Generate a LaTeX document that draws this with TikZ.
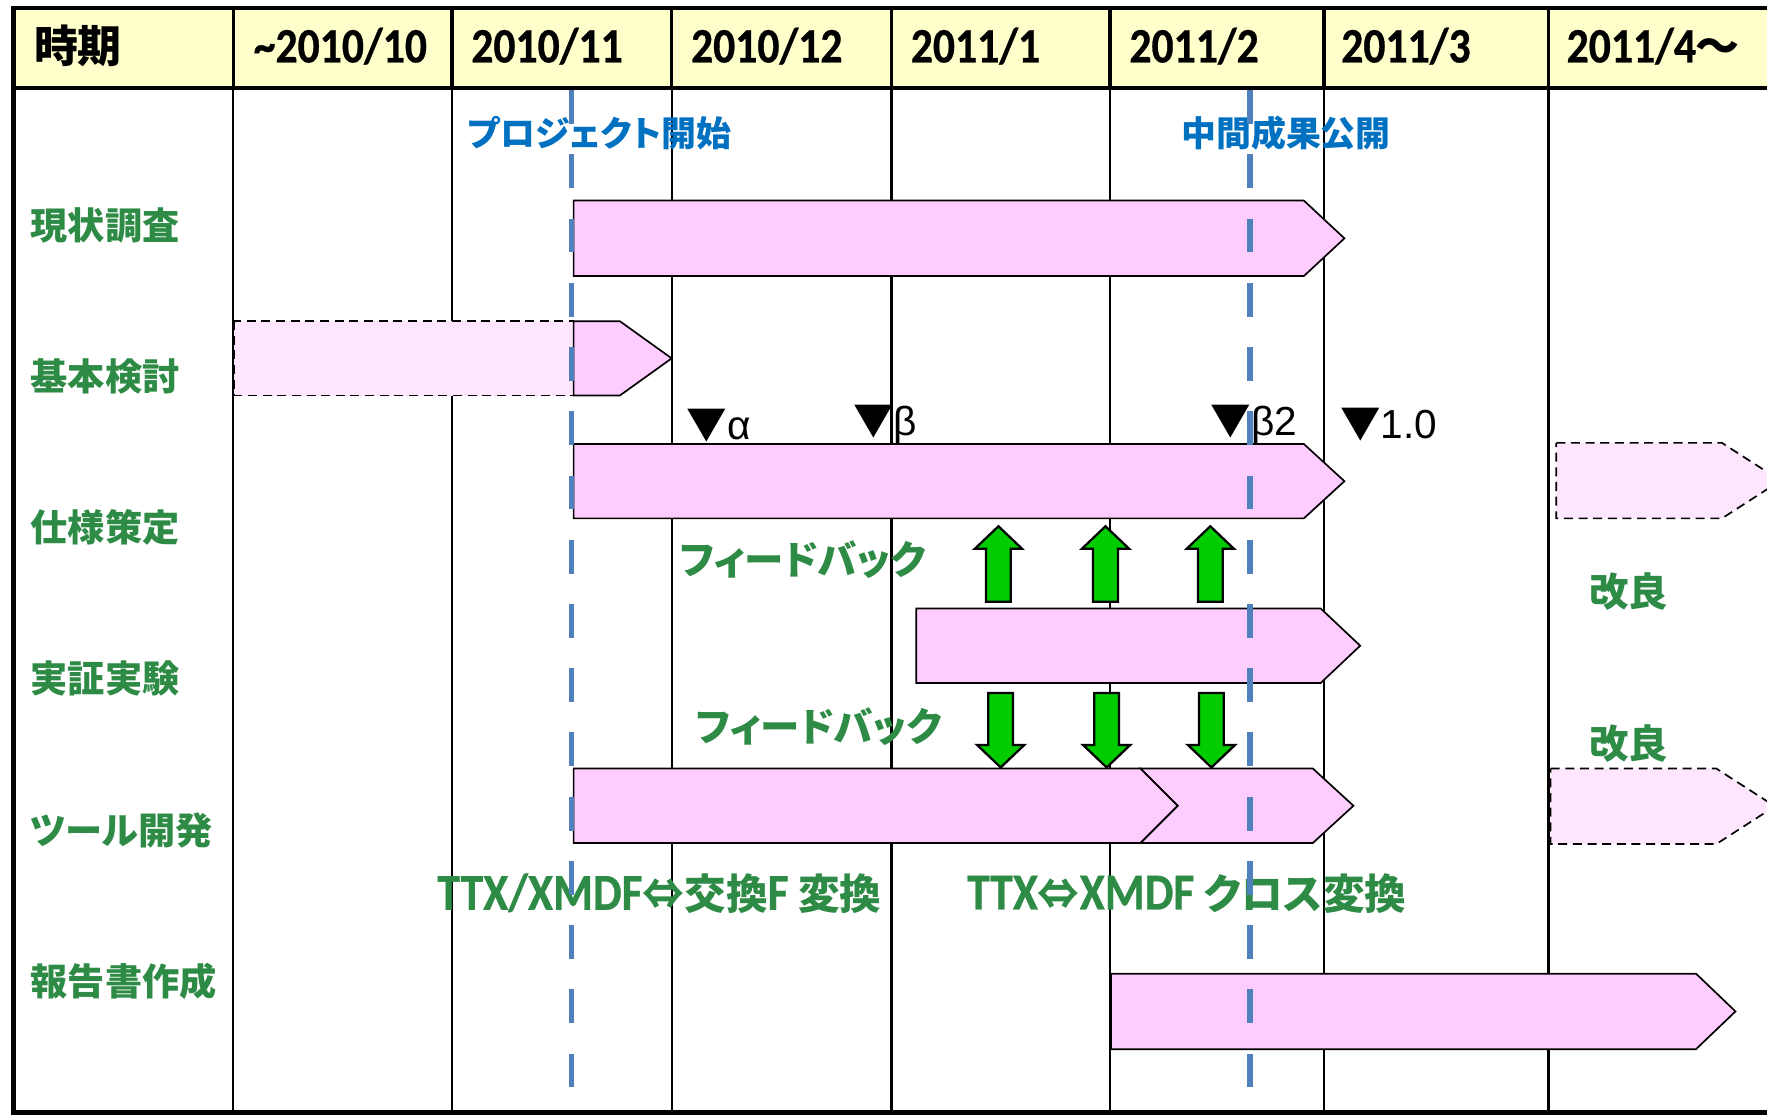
\documentclass[tikz,border=0pt]{standalone}
\usepackage{fontspec}
\setmainfont{Liberation Sans}
\newfontfamily\cjk{Noto Sans CJK JP}[RawFeature=+palt]
\newfontfamily\hdfont{Carlito Bold}[FakeStretch=0.88,FakeBold=0.6]

\definecolor{hdyellow}{RGB}{255,255,204}
\definecolor{barpink}{RGB}{255,204,255}
\definecolor{palepink}{RGB}{255,230,255}
\definecolor{labelgreen}{RGB}{46,139,70}
\definecolor{markblue}{RGB}{0,112,192}
\definecolor{dashblue}{RGB}{79,129,189}
\definecolor{fbgreen}{RGB}{0,204,0}

\begin{document}
\begin{tikzpicture}[x=1pt,y=-1pt,line join=miter,
        grid line/.style={line width=2pt},
        main bar/.style={draw,fill=barpink,line width=1.5pt},
        plan bar/.style={draw,fill=palepink,line width=1.5pt,dash pattern=on 8pt off 5pt},
        fb arrow/.style={draw,fill=fbgreen,line width=2pt},
        head label/.style={anchor=west,inner sep=0pt,font=\hdfont\fontsize{44}{48}\selectfont},
        row label/.style={anchor=west,inner sep=0pt,font=\cjk\bfseries\fontsize{33}{36}\selectfont,text=labelgreen},
        event label/.style={anchor=west,inner sep=0pt,font=\cjk\bfseries\fontsize{31}{34}\selectfont,text=markblue},
        note label/.style={anchor=west,inner sep=0pt,font=\cjk\bfseries\fontsize{35}{38}\selectfont,text=labelgreen},
        mark label/.style={anchor=west,inner sep=0pt,font=\fontsize{36}{40}\selectfont}]
        \useasboundingbox (0,0) rectangle (1568,989.4);

        % header row
        \fill[hdyellow] (12,7) rectangle (1568,78);
        \foreach \gx in {207,401,596,791,985,1175,1374}
          \draw[grid line] (\gx,7) -- (\gx,987);
        \foreach \gx in {207,401,596,791,985,1175,1374}
          \draw[line width=3pt] (\gx,7) -- (\gx,78);
        \draw[line width=4pt] (1568,7) -- (12,7) -- (12,987) -- (1568,987);
        \draw[line width=3pt] (12,78) -- (1568,78);

        \node[head label] (period) at (30,41) {\cjk\bfseries\fontsize{39}{44}\selectfont 時期};
        \node[head label] (oct) at (225,41) {\char`~2010/10};
        \node[head label] (nov) at (418,41) {2010/11};
        \node[head label] (dec) at (613,41) {2010/12};
        \node[head label] (jan) at (808,41) {2011/1};
        \node[head label] (feb) at (1002,41) {2011/2};
        \node[head label] (mar) at (1190,41) {2011/3};
        \node[head label] (apr) at (1390,41) {2011/4{\cjk\bfseries\fontsize{39}{44}\selectfont ～}};

        % rows
        \node[row label] (survey) at (27,200) {現状調査};
        \node[row label] (study) at (27,334) {基本検討};
        \node[row label] (spec) at (27,468) {仕様策定};
        \node[row label] (trial) at (27,602) {実証実験};
        \node[row label] (tool) at (27,737) {ツール開発};
        \node[row label] (report) at (27,871) {報告書作成};

        % bars
        \draw[main bar] (509,178) -- (1157,178) -- (1193,211.5) -- (1157,245) -- (509,245) -- cycle;
        \draw[plan bar] (208,285) rectangle (509,351);
        \draw[main bar] (509,285) -- (550,285) -- (596,318) -- (550,351) -- (509,351) -- cycle;
        \draw[main bar] (509,394) -- (1157,394) -- (1193,427) -- (1157,460) -- (509,460) -- cycle;
        \draw[plan bar] (1381,393) -- (1528,393) -- (1580,426.5) -- (1528,460) -- (1381,460) -- cycle;
        \draw[main bar] (813,540) -- (1172,540) -- (1207,573) -- (1172,606) -- (813,606) -- cycle;
        \draw[main bar] (1012,682) -- (1165,682) -- (1201,715) -- (1165,748) -- (1012,748) -- (1045,715) -- cycle;
        \draw[main bar] (509,682) -- (1012,682) -- (1045,715) -- (1012,748) -- (509,748) -- cycle;
        \draw[plan bar] (1376,682) -- (1523,682) -- (1575,715.5) -- (1523,749) -- (1376,749) -- cycle;
        \draw[main bar] (986,864) -- (1505,864) -- (1540,897.5) -- (1505,931) -- (986,931) -- cycle;

        % feedback arrows
        \foreach \cx in {886,981,1074}
          \draw[fb arrow] ({\cx-11},534) -- ({\cx-11},487) -- ({\cx-21},487) -- (\cx,467)
            -- ({\cx+21},487) -- ({\cx+11},487) -- ({\cx+11},534) -- cycle;
        \foreach \cx in {888,982,1075}
          \draw[fb arrow] ({\cx-11},615) -- ({\cx-11},661) -- ({\cx-21},661) -- (\cx,681)
            -- ({\cx+21},661) -- ({\cx+11},661) -- ({\cx+11},615) -- cycle;

        % milestones
        \node[mark label] (alpha) at (609,378) {{\cjk ▼}α};
        \node[mark label] (beta) at (757,377) {{\cjk ▼}β};
        \node[mark label] (beta2) at (1074,377) {{\cjk ▼}β2};
        \node[mark label] (rel) at (1189,377) {{\cjk ▼}1.0};

        % notes
        \node[event label] (start) at (415,118) {プロジェクト開始};
        \node[event label] (midpub) at (1048,118) {中間成果公開};
        \node[note label] (fb1) at (603,497) {フィードバック};
        \node[note label] (fb2) at (617,645) {フィードバック};
        \node[note label] (imp1) at (1410,525) {改良};
        \node[note label] (imp2) at (1410,660) {改良};
        \node[note label,font=\cjk\bfseries\fontsize{37}{40}\selectfont] (conv1) at (388,793)
          {{\hdfont\fontsize{46}{50}\selectfont TTX/XMDF}⇔交換{\hdfont\fontsize{46}{50}\selectfont F} 変換};
        \node[note label,font=\cjk\bfseries\fontsize{37}{40}\selectfont] (conv2) at (858,793)
          {{\hdfont\fontsize{46}{50}\selectfont TTX}⇔{\hdfont\fontsize{46}{50}\selectfont XMDF} クロス変換};

        % project start / interim release
        \draw[dashblue,line width=5pt,dash pattern=on 30pt off 27pt] (507,80) -- (507,990);
        \draw[dashblue,line width=5pt,dash pattern=on 30pt off 27pt] (1109,80) -- (1109,990);
        \end{tikzpicture}
\end{document}
